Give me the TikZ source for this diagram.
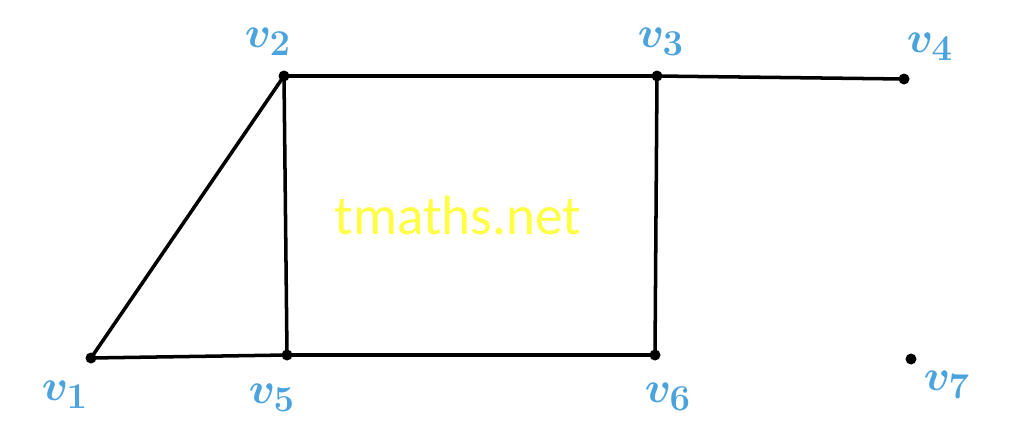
\documentclass[tikz,border=0pt]{standalone}
\usepackage{fontspec}
\newfontfamily\wmfont{Carlito}
\definecolor{lblblue}{RGB}{75,163,222}
\definecolor{wmyellow}{RGB}{255,255,70}
\begin{document}
\begin{tikzpicture}[x=0.02cm,y=-0.02cm,
  vtx/.style={circle,fill=black,inner sep=0pt,minimum size=0.22cm},
  lbl/.style={text=lblblue,font=\fontsize{30}{32}\selectfont\boldmath,inner sep=0pt},
  edge/.style={line width=2pt}]
\useasboundingbox (0,0) rectangle (1010,436);
\node[text=wmyellow, font=\wmfont\fontsize{31.5}{33}\selectfont] (wm) at (458,215) {tmaths.net};
\node[vtx] (v1) at (91,358) {};
\node[vtx] (v2) at (284,76) {};
\node[vtx] (v3) at (657,76) {};
\node[vtx] (v4) at (904,79) {};
\node[vtx] (v5) at (287,355) {};
\node[vtx] (v6) at (655,355) {};
\node[vtx] (v7) at (911,359) {};
\draw[edge] (v1.center) -- (v2.center);
\draw[edge] (v1.center) -- (v5.center);
\draw[edge] (v2.center) -- (v3.center);
\draw[edge] (v3.center) -- (v4.center);
\draw[edge] (v2.center) -- (v5.center);
\draw[edge] (v3.center) -- (v6.center);
\draw[edge] (v5.center) -- (v6.center);
\node[lbl] (l1) at (65,395) {$v_1$};
\node[lbl] (l2) at (268,42) {$v_2$};
\node[lbl] (l3) at (661,42) {$v_3$};
\node[lbl] (l4) at (930,47) {$v_4$};
\node[lbl] (l5) at (272,398) {$v_5$};
\node[lbl] (l6) at (668,397) {$v_6$};
\node[lbl] (l7) at (947,385) {$v_7$};
\end{tikzpicture}
\end{document}
